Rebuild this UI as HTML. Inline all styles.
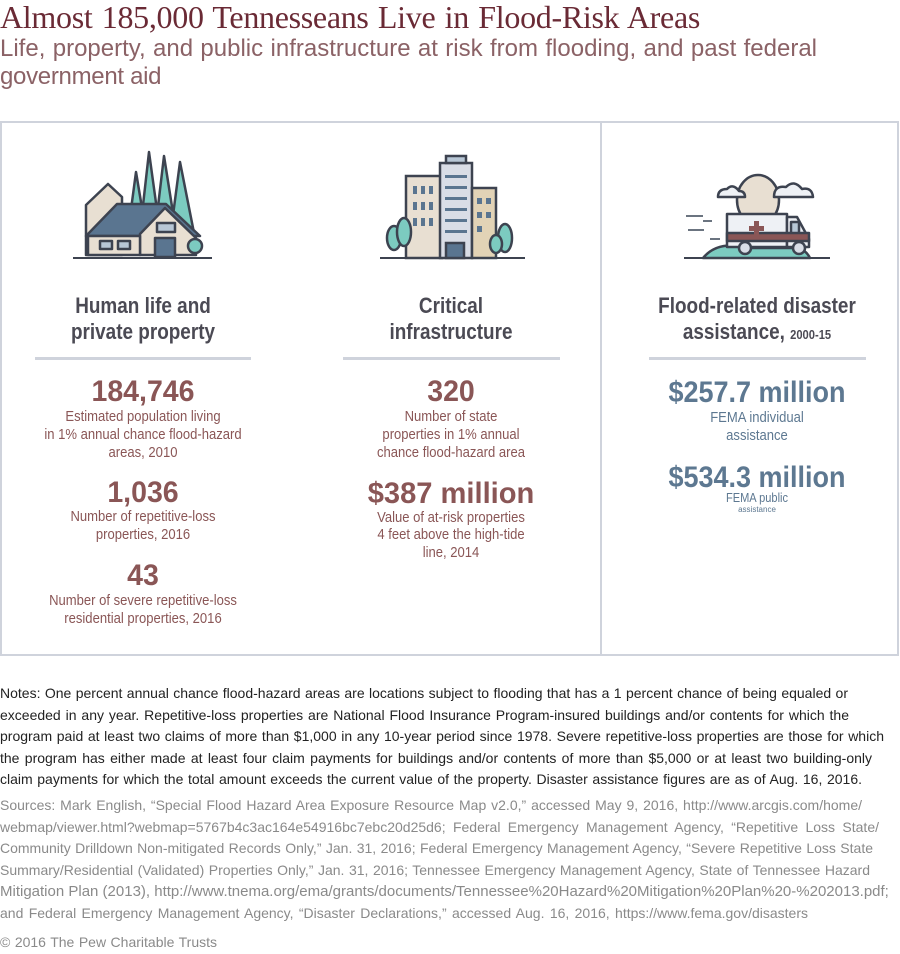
<!DOCTYPE html>
<html><head><meta charset="utf-8"><style>
*{margin:0;padding:0;box-sizing:border-box}
body{width:900px;height:954px;background:#fff;position:relative;overflow:hidden;font-family:"Liberation Sans",sans-serif}
.ln{position:absolute;white-space:nowrap;transform-origin:0 0;text-align:justify;text-align-last:justify;line-height:1}
.c{position:absolute;white-space:nowrap;text-align:center;line-height:1;transform-origin:50% 0}
.h{color:#4b4a54;font-weight:bold;font-size:22px}
.n{color:#8a5656;font-weight:bold;font-size:30px}
.b{color:#5d7891;font-weight:bold;font-size:30px}
.d{color:#8a5656;font-size:14.5px}
.db{color:#5d7891;font-size:14.5px}
.rule{position:absolute;height:3px;background:#cfd3dc;top:357px}
</style></head><body>
<div class="ln" style="left:0;top:1px;width:700px;font-family:'Liberation Serif',serif;font-size:32px;color:#6a2a35;letter-spacing:-0.3px">Almost 185,000 Tennesseans Live in Flood-Risk Areas</div>
<div class="ln" style="left:0;top:37px;width:817px;font-size:24px;color:#8b6266">Life, property, and public infrastructure at risk from flooding, and past federal</div>
<div style="position:absolute;left:0;top:65px;font-size:24px;color:#8b6266;white-space:nowrap;line-height:1;letter-spacing:-0.3px">government aid</div>

<div style="position:absolute;left:0;top:121px;width:899px;height:535px;border:2px solid #cfd3dc"></div>
<div style="position:absolute;left:600px;top:121px;width:2px;height:535px;background:#cfd3dc"></div>

<!-- house icon -->
<svg style="position:absolute;left:70px;top:145px" width="150" height="120" viewBox="70 145 150 120">
<g stroke="#3d4350" stroke-width="2.5" stroke-linejoin="round">
<polygon points="128,232 136,172 146,232" fill="#7ccbc0"/>
<polygon points="140,232 149,152 160,232" fill="#7ccbc0"/>
<polygon points="155,232 164,156 176,232" fill="#7ccbc0"/>
<polygon points="170,238 180,162 195,238" fill="#7ccbc0"/>
<polygon points="86,255 86,205 108,184 122,197 122,255" fill="#e8dfd2"/>
<polygon points="86,236 117,204 166,204 200,236" fill="#5a7590"/>
<polygon points="140,255 140,234 165,208 196,238 196,255" fill="#e8dfd2"/>
<rect x="88" y="236" width="52" height="19" fill="#e8dfd2"/>
<rect x="155" y="238" width="20" height="19" fill="#5a7590"/>
<rect x="157" y="223" width="18" height="9" fill="#b8c7d6"/>
<rect x="100" y="241" width="12" height="8" fill="#b8c7d6"/>
<rect x="118" y="241" width="12" height="8" fill="#b8c7d6"/>
<circle cx="195" cy="246" r="7" fill="#7ccbc0"/>
</g>
<line x1="73" y1="258" x2="212" y2="258" stroke="#3d4350" stroke-width="2"/>
</svg>

<!-- building icon -->
<svg style="position:absolute;left:375px;top:145px" width="150" height="120" viewBox="375 145 150 120">
<g stroke="#3d4350" stroke-width="2.5">
<rect x="406" y="176" width="36" height="82" fill="#e8dfd2"/>
<rect x="440" y="163" width="32" height="95" fill="#d9dde6"/>
<rect x="446" y="156" width="20" height="7" fill="#b8c7d6"/>
<rect x="472" y="188" width="24" height="70" fill="#e2d3b6"/>
<ellipse cx="394" cy="238" rx="7" ry="12" fill="#7ccbc0"/>
<ellipse cx="404" cy="232" rx="7" ry="14" fill="#7ccbc0"/>
<ellipse cx="505" cy="238" rx="7" ry="14" fill="#7ccbc0"/>
<ellipse cx="496" cy="244" rx="6" ry="9" fill="#7ccbc0"/>
<rect x="446" y="243" width="18" height="15" fill="#5a7590"/>
</g>
<g fill="#5a7590"><rect x="413" y="186" width="4" height="8"/><rect x="421" y="186" width="4" height="8"/><rect x="429" y="186" width="4" height="8"/>
<rect x="413" y="202" width="4" height="8"/><rect x="421" y="202" width="4" height="8"/><rect x="429" y="202" width="4" height="8"/>
<rect x="413" y="218" width="4" height="8"/><rect x="421" y="218" width="4" height="8"/><rect x="429" y="218" width="4" height="8"/>
<rect x="445" y="175" width="22" height="3"/><rect x="445" y="186" width="22" height="3"/><rect x="445" y="197" width="22" height="3"/><rect x="445" y="208" width="22" height="3"/><rect x="445" y="219" width="22" height="3"/><rect x="445" y="230" width="22" height="3"/>
<rect x="477" y="198" width="5" height="6"/><rect x="486" y="198" width="5" height="6"/><rect x="477" y="212" width="5" height="6"/><rect x="486" y="212" width="5" height="6"/><rect x="477" y="226" width="5" height="6"/></g>
<line x1="380" y1="258" x2="525" y2="258" stroke="#3d4350" stroke-width="2"/>
</svg>

<!-- ambulance icon -->
<svg style="position:absolute;left:680px;top:160px" width="160" height="105" viewBox="680 160 160 105">
<g stroke="#3d4350" stroke-width="2.5" stroke-linejoin="round">
<ellipse cx="758" cy="200" rx="21" ry="25" fill="#e8dfd2"/>
<path d="M774 197 q0-12 12-10 q8-8 16 2 q10-2 11 8 z" fill="#eef1f5"/>
<path d="M718 197 q0-8 9-8 q6-6 12 2 q6 0 6 6 z" fill="#eef1f5"/>
<path d="M703 258 q15-18 45-10 h50 q8 2 12 10 z" fill="#7ccbc0"/>
<rect x="727" y="214" width="60" height="33" fill="#eef1f5"/>
<path d="M787 217 h10 l12 22 v8 h-22 z" fill="#eef1f5"/>
<rect x="791" y="222" width="8" height="12" fill="#b8c7d6"/>
<rect x="727" y="233" width="82" height="8" fill="#8a5656"/>
<circle cx="745" cy="248" r="6" fill="#d9dde6"/>
<circle cx="799" cy="248" r="6" fill="#d9dde6"/>
</g>
<path d="M749 226 h5 v-5 h5 v5 h5 v5 h-5 v5 h-5 v-5 h-5z" fill="#8a5656"/>
<g stroke="#6b7480" stroke-width="2"><line x1="686" y1="216" x2="703" y2="216"/><line x1="703" y1="221" x2="712" y2="221"/><line x1="688" y1="230" x2="704" y2="230"/><line x1="710" y1="239" x2="720" y2="239"/></g>
<line x1="684" y1="258" x2="830" y2="258" stroke="#3d4350" stroke-width="2"/>
</svg>

<!-- column 1 -->
<div class="c h" style="left:-7px;width:300px;top:295px;transform:scaleX(.86)">Human life and</div>
<div class="c h" style="left:-7px;width:300px;top:321px;transform:scaleX(.86)">private property</div>
<div class="rule" style="left:35px;width:216px"></div>
<div class="c n" style="left:-7px;width:300px;top:377px;transform:scaleX(.95)">184,746</div>
<div class="c d" style="left:-7px;width:300px;top:410px;transform:scaleX(.9)">Estimated population living</div>
<div class="c d" style="left:-7px;width:300px;top:428px;transform:scaleX(.9)">in 1% annual chance flood-hazard</div>
<div class="c d" style="left:-7px;width:300px;top:446px;transform:scaleX(.9)">areas, 2010</div>
<div class="c n" style="left:-7px;width:300px;top:478px;transform:scaleX(.95)">1,036</div>
<div class="c d" style="left:-7px;width:300px;top:510px;transform:scaleX(.9)">Number of repetitive-loss</div>
<div class="c d" style="left:-7px;width:300px;top:528px;transform:scaleX(.9)">properties, 2016</div>
<div class="c n" style="left:-7px;width:300px;top:561px;transform:scaleX(.95)">43</div>
<div class="c d" style="left:-7px;width:300px;top:594px;transform:scaleX(.9)">Number of severe repetitive-loss</div>
<div class="c d" style="left:-7px;width:300px;top:612px;transform:scaleX(.9)">residential properties, 2016</div>

<!-- column 2 -->
<div class="c h" style="left:301px;width:300px;top:295px;transform:scaleX(.86)">Critical</div>
<div class="c h" style="left:301px;width:300px;top:321px;transform:scaleX(.86)">infrastructure</div>
<div class="rule" style="left:343px;width:217px"></div>
<div class="c n" style="left:301px;width:300px;top:377px;transform:scaleX(.95)">320</div>
<div class="c d" style="left:301px;width:300px;top:410px;transform:scaleX(.9)">Number of state</div>
<div class="c d" style="left:301px;width:300px;top:428px;transform:scaleX(.9)">properties in 1% annual</div>
<div class="c d" style="left:301px;width:300px;top:446px;transform:scaleX(.9)">chance flood-hazard area</div>
<div class="c n" style="left:301px;width:300px;top:479px;transform:scaleX(.97)">$387 million</div>
<div class="c d" style="left:301px;width:300px;top:511px;transform:scaleX(.9)">Value of at-risk properties</div>
<div class="c d" style="left:301px;width:300px;top:528px;transform:scaleX(.9)">4 feet above the high-tide</div>
<div class="c d" style="left:301px;width:300px;top:546px;transform:scaleX(.9)">line, 2014</div>

<!-- column 3 -->
<div class="c h" style="left:607px;width:300px;top:295px;transform:scaleX(.86)">Flood-related disaster</div>
<div class="c h" style="left:607px;width:300px;top:321px;transform:scaleX(.86)">assistance, <span style="font-size:13px">2000-15</span></div>
<div class="rule" style="left:649px;width:217px"></div>
<div class="c b" style="left:607px;width:300px;top:378px;transform:scaleX(.9)">$257.7 million</div>
<div class="c db" style="left:607px;width:300px;top:411px;transform:scaleX(.9)">FEMA individual</div>
<div class="c db" style="left:607px;width:300px;top:429px;transform:scaleX(.9)">assistance</div>
<div class="c b" style="left:607px;width:300px;top:463px;transform:scaleX(.9)">$534.3 million</div>
<div class="c db" style="left:607px;width:300px;top:491px;font-size:13px;transform:scaleX(.85)">FEMA public</div>
<div class="c db" style="left:607px;width:300px;top:506px;font-size:8px">assistance</div>

<!-- notes -->
<div style="color:#222;font-size:14px">
<div class="ln" style="left:0;top:686px;width:848px">Notes: One percent annual chance flood-hazard areas are locations subject to flooding that has a 1 percent chance of being equaled or</div>
<div class="ln" style="left:0;top:708px;width:849px">exceeded in any year. Repetitive-loss properties are National Flood Insurance Program-insured buildings and/or contents for which the</div>
<div class="ln" style="left:0;top:729px;width:884px">program paid at least two claims of more than $1,000 in any 10-year period since 1978. Severe repetitive-loss properties are those for which</div>
<div class="ln" style="left:0;top:751px;width:872px">the program has either made at least four claim payments for buildings and/or contents of more than $5,000 or at least two building-only</div>
<div class="ln" style="left:0;top:772px;width:862px">claim payments for which the total amount exceeds the current value of the property. Disaster assistance figures are as of Aug. 16, 2016.</div>
</div>
<div style="color:#8a8a8a;font-size:14px">
<div class="ln" style="left:0;top:798px;width:862px">Sources: Mark English, “Special Flood Hazard Area Exposure Resource Map v2.0,” accessed May 9, 2016, http://www.arcgis.com/home/</div>
<div class="ln" style="left:0;top:820px;width:879px">webmap/viewer.html?webmap=5767b4c3ac164e54916bc7ebc20d25d6; Federal Emergency Management Agency, “Repetitive Loss State/</div>
<div class="ln" style="left:0;top:841px;width:873px">Community Drilldown Non-mitigated Records Only,” Jan. 31, 2016; Federal Emergency Management Agency, “Severe Repetitive Loss State</div>
<div class="ln" style="left:0;top:863px;width:870px">Summary/Residential (Validated) Properties Only,” Jan. 31, 2016; Tennessee Emergency Management Agency, State of Tennessee Hazard</div>
<div class="ln" style="left:0;top:884px;width:884px;font-size:15px">Mitigation Plan (2013), http://www.tnema.org/ema/grants/documents/Tennessee%20Hazard%20Mitigation%20Plan%20-%202013.pdf;</div>
<div class="ln" style="left:0;top:906px;width:808px">and Federal Emergency Management Agency, “Disaster Declarations,” accessed Aug. 16, 2016, https://www.fema.gov/disasters</div>
<div class="ln" style="left:0;top:935px;width:217px">© 2016 The Pew Charitable Trusts</div>
</div>
</body></html>
